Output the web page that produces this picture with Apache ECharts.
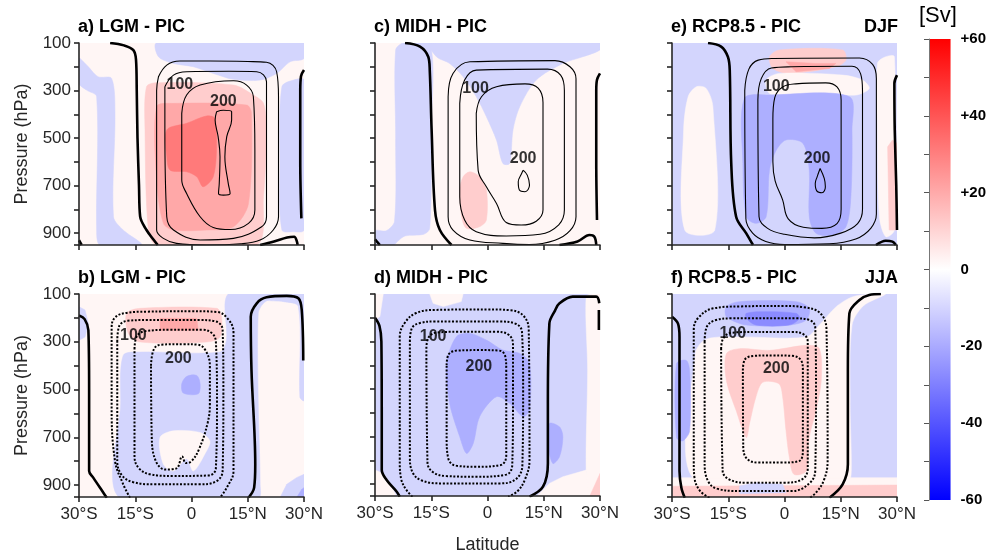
<!DOCTYPE html>
<html><head><meta charset="utf-8">
<script src="https://cdn.jsdelivr.net/npm/echarts@6/dist/echarts.min.js"></script>
<style>html,body{margin:0;padding:0;background:#fff}#c{width:989px;height:555px}</style>
</head><body><div id="c"></div>
<script>
// ---------- tick labels ----------
const latTicks = [-30, -15, 0, 15, 30];
const latLabels = ['30°S', '15°S', '0', '15°N', '30°N'];
const presLabels = [100, 300, 500, 700, 900];
const cbarRange = [-60, 60];
const cbarLabels = ['-60', '-40', '-20', '0', '+20', '+40', '+60'];
const panelTitles = ['a) LGM - PIC', 'b) LGM - PIC', 'c) MIDH - PIC', 'd) MIDH - PIC', 'e) RCP8.5 - PIC', 'f) RCP8.5 - PIC'];
const seasons = ['DJF', 'JJA'];

// ---------- filled anomaly regions: [level (Sv, band centre), [[lat, hPa], ...]] ----------
const fillA = [
  [-5, [[-9.3,100],[30,100],[30,165],[26.3,179],[22.7,228],[18.3,256],[11.2,253],[5.8,228],[0.5,200],[-4.8,186],[-8.8,158]]],
  [-5, [[-30,165],[-29.7,165],[-27.5,200],[-24.9,242],[-21.3,249],[-20.4,396],[-20.8,831],[-18.2,887],[-13.3,950],[-24.4,950],[-25.3,887],[-25.3,326],[-28,298],[-30,270]]],
  [-5, [[24.1,284],[27.2,256],[30,256],[30,887],[27.2,894],[24.1,887],[23.6,607]]],
  [15, [[-12,284],[-9.3,267],[11.2,277],[16.5,319],[19.2,354],[20,466],[19.2,747],[17.4,950],[-9.3,950],[-11.5,887],[-12.4,466]]],
  [25, [[-9.3,368],[-4.8,354],[14.7,361],[16,396],[15.2,775],[11.2,873],[4,887],[-4.8,887],[-7.5,859],[-9.3,677]]],
  [35, [[-6.6,466],[-1.3,438],[4,407],[6.2,417],[6.7,537],[5.8,663],[3.1,705],[1.4,663],[-1.3,642],[-5.7,635],[-6.6,579]]]
];
const fillB = [
  [-5, [[-19.1,953],[-18.9,560],[-18.2,357],[-13.7,343],[7.6,343],[9.3,294],[9.8,100],[22.7,100],[19.2,139],[17.8,181],[17.8,560],[18.3,897],[17.8,953]]],
  [-5, [[22.7,100],[30,100],[30,546],[28.9,532],[28.5,153],[24.5,132],[20,125]]],
  [-5, [[23.6,953],[25.4,897],[28,869],[30,855],[30,953]]],
  [-15, [[28,953],[29.4,918],[30,911],[30,953]]],
  [-5, [[-30,153],[-28.4,167],[-27.5,224],[-28.4,280],[-30,294]]],
  [5, [[-8.4,701],[-4.8,673],[2.3,680],[4.9,715],[4,757],[0.5,841],[-1.3,790],[-4.8,841],[-7.5,813]]],
  [-15, [[-2.6,476],[-1.3,445],[1.4,441],[2.3,476],[1.8,518],[-2.2,515]]],
  [15, [[-17.3,181],[-13.7,160],[6.7,160],[8,195],[7.6,280],[4,301],[-13.7,301],[-16.8,266]]],
  [25, [[-8.4,202],[1.4,202],[1.8,252],[-8.4,252]]]
];
const fillC = [
  [-5, [[-24.5,130],[-22.5,100],[-15.4,100],[-15,466],[-15.4,880],[-17,905],[-22,912],[-24,935],[-25,950],[-30,950],[-30,890],[-27,890],[-24.8,850],[-24.5,500]]],
  [-5, [[-15.4,100],[30,100],[30,129],[25.4,158],[20.1,186],[13,256],[8.6,368],[6.8,466],[5.9,607],[4.1,607],[2.4,509],[-0.3,410],[-3,326],[-6.5,242],[-10.1,186],[-13.6,158]]],
  [15, [[-6.5,663],[-4.7,642],[-2.1,663],[-0.3,719],[-0.3,845],[-2.1,873],[-5.6,880],[-6.9,831],[-7.4,719]]]
];
const fillD = [
  [-5, [[-30,100],[30,100],[30,953],[-30,953]]],
  [5, [[-30,100],[-27.8,100],[-28.7,195],[-30,209]]],
  [5, [[-15.4,100],[-6.5,100],[-7,132],[-11.8,153],[-14.5,139]]],
  [5, [[26.3,111],[28,100],[30,100],[30,953],[27.2,953],[26.3,841],[26.7,420]]],
  [5, [[-30,841],[-27.8,855],[-26,897],[-24.2,953],[-30,953]]],
  [5, [[13,953],[16.5,897],[20.1,869],[26.3,841],[27.2,953]]],
  [15, [[27.2,953],[30,855],[30,953]]],
  [-15, [[-10.9,392],[-8.3,280],[-4.7,266],[-0.3,294],[4.1,336],[8.6,350],[11.2,392],[11.2,588],[9.5,616],[5.9,560],[2.4,532],[-2.1,616],[-3.8,729],[-5.6,771],[-7.4,701],[-10.1,560]]],
  [-15, [[16.5,645],[19.2,659],[20.1,701],[19.2,785],[17.4,813],[16.1,729]]]
];
const fillE = [
  [-5, [[-30,100],[30,100],[30,953],[-30,953]]],
  [15, [[-4,158],[-1.3,129],[15.5,129],[16.4,172],[13.7,200],[1.3,228],[-3.1,207]]],
  [25, [[0.4,179],[8.4,186],[13.7,186],[12,207],[3.1,221]]],
  [5, [[-4.9,256],[-1.3,228],[15.5,235],[20.8,256],[22.6,291],[19.1,319],[12,312],[1.3,315],[-4,312]]],
  [-15, [[-10.7,333],[-4,319],[17.3,326],[18,466],[17.7,747],[16.4,873],[12.9,908],[8.4,901],[6.6,831],[6.6,635],[4.9,522],[0.4,508],[-2.2,551],[-4,635],[-4.9,831],[-7.6,859],[-10.2,831],[-11.1,607]]],
  [5, [[-26.6,887],[-26.9,466],[-25.7,326],[-23.5,284],[-20.9,291],[-19.1,368],[-18.6,887]]],
  [5, [[24.8,186],[27,158],[29.3,158],[29.3,887],[27,915],[25.3,831],[24.8,466]]],
  [15, [[27.5,537],[28.8,508],[30,522],[30,887],[27.9,887]]]
];
const fillF = [
  [-5, [[-30,100],[30,100],[30,953],[-30,953]]],
  [5, [[-23.8,880],[-23.8,350],[-21,290],[-12.9,280],[5.8,280],[9.3,230],[13.8,153],[18.3,111],[24,100],[27,100],[21,150],[18,230],[17.5,560],[17.8,841],[17,880]]],
  [5, [[-30,869],[30,869],[30,953],[-30,953]]],
  [15, [[-30,905],[30,900],[30,953],[-30,953]]],
  [-5, [[-12,904],[-7.6,890],[-0.5,897],[0.4,932],[-12,936]]],
  [15, [[-10.2,701],[-12.9,588],[-15.5,462],[-15.5,350],[-12,329],[-4,336],[5.8,315],[9.3,329],[9.8,462],[8.4,588],[6.6,701],[5.8,841],[2.5,855],[1.3,785],[0.4,673],[-0.5,530],[-1.5,476],[-5.8,470],[-7.6,530],[-9.3,640]]],
  [-15, [[-15.5,195],[-15.5,153],[-12,132],[3.1,132],[6.6,160],[5.8,209],[1.3,230],[-10.2,230]]],
  [-25, [[-10.2,202],[-10.2,181],[-5.8,174],[3.1,181],[4,202],[1.3,230],[-7.6,230]]],
  [-15, [[-28.8,392],[-26.2,378],[-25.3,420],[-25.3,673],[-27.1,715],[-28.8,701]]]
];

// ---------- zero streamfunction lines (thick) ----------
const zeroA = [
  [[-21.7,100],[-18,110],[-15.5,130],[-14.8,170],[-14.6,300],[-14.4,500],[-14,700],[-13.7,830],[-12,887],[-10,930],[-9,950]],
  [[-30,930],[-29.3,950]],
  [[30,214],[29.2,240],[29,300],[29,600],[29.3,838]],
  [[18.3,950],[22,935],[25.5,918],[27.4,915],[28,930],[28.3,950]]
];
const zeroB = [
  [[-30,190],[-28.5,205],[-27.5,252],[-27.3,500],[-27.3,841],[-26.2,869],[-23.5,932],[-22.6,953]],
  [[15.2,953],[16.7,911],[17,813],[16,420],[15.8,195],[17.4,139],[20,114],[25.4,108],[28.5,118],[29.4,167],[29.8,378]]
];
const zeroC = [
  [[-22,100],[-18,115],[-15.8,158],[-15.4,214],[-14.9,466],[-14,803],[-12.7,887],[-9.6,950]],
  [[-30,926],[-28.7,950]],
  [[30,228],[29.2,255],[29,300],[29,600],[29.2,845]],
  [[19.2,950],[24,935],[27.2,908],[28.5,915],[29,950]]
];
const zeroD = [
  [[-30,200],[-28.8,235],[-28.3,300],[-28.2,600],[-28.2,841],[-26.9,883],[-24.2,932],[-23.4,953]],
  [[11.2,953],[14.8,911],[16.1,813],[16.1,560],[16.5,224],[18,170],[19.2,139],[22.7,111],[29,111],[29.8,139]],
  [[29.7,167],[29.7,252]]
];
const zeroE = [
  [[-20.4,100],[-16.9,115],[-15.1,158],[-14.6,214],[-14.2,607],[-12.9,831],[-10.2,901],[-8.4,950]],
  [[30,235],[29.3,270],[29.4,466],[29.8,700],[30,887]],
  [[24.4,950],[27,932],[28.8,936],[29.7,950]]
];
const zeroF = [
  [[-30,195],[-28.4,224],[-28,280],[-28,841],[-27.5,911],[-26.6,953]],
  [[12,953],[15.5,897],[16.9,813],[16.9,420],[17.3,181],[20,125],[22.6,104],[25.7,100]]
];

// ---------- climatology contours (50 Sv interval) ----------
const contA = [
  [[-8.8,242],[-6.6,193],[-3.1,176],[5,176],[15,178],[20,181],[22.7,221],[23.2,326],[23.2,600],[23.2,831],[21.8,887],[18.3,929],[13,945],[4,950],[-4,943],[-7.5,922],[-9.3,887],[-9.3,600],[-9.3,300],[-8.8,242]],
  [[-7.1,284],[-4.8,235],[-1.3,221],[10,219],[17.4,221],[20,263],[20,500],[20,831],[18.7,873],[11.2,922],[2.3,929],[-4.8,887],[-6.6,831],[-7.1,467],[-7.1,284]],
  [[-2.6,396],[-1.3,319],[2.3,277],[11.2,259],[14.7,277],[16.5,326],[16.9,550],[16.9,803],[15.2,859],[10.3,885],[5.8,876],[2.3,831],[-1.3,733],[-2.6,677],[-2.6,396]],
  [[6.7,389],[8.5,383],[10.7,389],[10.7,424],[9.4,494],[8.9,579],[9.8,691],[10.3,733],[8.5,740],[7.2,733],[7.4,691],[7.6,579],[7.1,494],[6.3,424],[6.7,389]]
];
const contB = [
  [[-16.4,953],[-18.2,897],[-20.4,799],[-21.3,560],[-21.3,250],[-20.5,200],[-17,178],[-12,174],[0,172],[6.7,175],[9.5,200],[11.2,260],[11.2,841],[9.4,911],[7.6,953]],
  [[-19.8,300],[-19.3,235],[-17,212],[-12,209],[2,209],[6.5,215],[8.3,250],[8.5,500],[8.3,841],[6.5,885],[2,897],[-10,897],[-15.5,888],[-18.5,860],[-19.8,800],[-19.8,300]],
  [[-15.2,330],[-14.5,275],[-12,255],[-6,250],[3,250],[5.5,265],[6.5,300],[6.8,550],[6.5,830],[4.5,860],[-5,862],[-11,855],[-14,830],[-15.2,780],[-15.2,330]],
  [[-10.8,400],[-10,330],[-8,312],[-2,310],[1.5,312],[3.5,330],[4.9,400],[4.9,560],[4.3,640],[2,750],[0,800],[-1.5,808],[-2.5,780],[-4,830],[-7,835],[-9.5,800],[-10.6,700],[-10.8,400]]
];
const contC = [
  [[-10.5,326],[-9.2,228],[-4.7,179],[18,174],[22,200],[23.6,250],[23.6,831],[22,890],[18,930],[11.2,948],[4.1,943],[-4.7,929],[-9.2,887],[-10.5,831],[-10.5,326]],
  [[-7.4,354],[-6.1,256],[-3,214],[16,210],[19.5,235],[20.5,300],[20.5,803],[19,865],[14,905],[5,912],[-3,894],[-6.1,845],[-7.4,747],[-7.4,354]],
  [[-3,396],[-1.6,326],[2.4,284],[10,272],[13.5,290],[14.8,350],[14.8,803],[13,850],[9,866],[5,855],[2.4,775],[-0.3,705],[-2.5,635],[-3,396]],
  [[9.5,635],[10.6,656],[11.2,698],[10,726],[8.5,719],[8.2,684],[9.1,649],[9.5,635]]
];
const contD = [
  [[-20,953],[-21.6,925],[-23,880],[-23.4,800],[-23.4,280],[-22,220],[-19,180],[-14,167],[0,165],[6,168],[9.5,190],[11,250],[11.2,800],[10,880],[8,930],[5.5,953]],
  [[-20.7,300],[-20.2,245],[-18,222],[-14,216],[3,216],[7.5,225],[9.2,260],[9.5,500],[9.3,820],[7.5,880],[3,897],[-12,897],[-17.5,885],[-20,850],[-20.7,780],[-20.7,300]],
  [[-16.3,330],[-15.8,285],[-13.5,262],[-8,259],[2,259],[5.5,270],[6.8,310],[6.8,550],[6.6,820],[5,860],[-3,869],[-11,866],[-14.5,850],[-16,810],[-16.3,330]],
  [[-10.9,400],[-10.4,355],[-8,338],[-2,336],[3,338],[4.7,360],[5,420],[5,560],[5,780],[3.5,820],[-3,827],[-8.5,822],[-10.5,790],[-10.9,700],[-10.9,400]]
];
const contE = [
  [[-10.6,300],[-9.5,210],[-7,172],[-3,165],[20,163],[23.5,190],[24.5,250],[24.5,820],[23,880],[19,925],[12,945],[0,948],[-5,935],[-8.5,900],[-10.3,840],[-10.6,300]],
  [[-7.1,340],[-6.2,250],[-3.5,205],[2,200],[18,198],[20.3,230],[20.8,300],[20.8,800],[19.5,860],[15,900],[8,920],[0,905],[-4.5,880],[-6.8,830],[-7.1,340]],
  [[-3.1,420],[-2.6,330],[-0.5,285],[3,272],[11,268],[14,285],[15.1,340],[15.1,800],[14,860],[10,880],[5,875],[1,840],[-0.5,760],[-2.5,680],[-3.1,600],[-3.1,420]],
  [[9.5,628],[10.6,670],[10.9,705],[10,730],[8.6,722],[8.2,691],[8.7,663],[9.5,628]]
];
const contF = [
  [[-20,953],[-22.5,925],[-24,870],[-24.2,800],[-24.2,250],[-23,200],[-19,160],[-12,152],[0,150],[5,155],[9.5,180],[11.2,250],[11.5,800],[10.5,880],[8.5,930],[6.8,953]],
  [[-21.3,300],[-20.8,240],[-18.5,210],[-14,202],[3,202],[6.8,210],[8.2,240],[8.4,500],[8.2,840],[6.5,895],[2,925],[-12,925],[-18,915],[-20.5,880],[-21.3,800],[-21.3,300]],
  [[-16.9,330],[-16.3,285],[-14,262],[-8,259],[2,259],[5,268],[6.2,300],[6.2,550],[6.2,830],[4.8,875],[0,890],[-10,890],[-14.5,878],[-16.5,840],[-16.9,330]],
  [[-11.1,420],[-10.6,375],[-8,359],[-3,357],[2,359],[4.3,375],[4.9,420],[4.9,560],[4.9,760],[3.8,800],[-1,806],[-7,806],[-10,790],[-11,740],[-11.1,420]]
];

// ---------- contour labels [lat, hPa, text] ----------
const labelsA = [[-3.1,277,'100'],[8.5,347,'200']];
const labelsB = [[-15.5,273,'100'],[-3.5,370,'200']];
const labelsC = [[-3.2,291,'100'],[9.5,585,'200']];
const labelsD = [[-14.5,280,'100'],[-2.3,406,'200']];
const labelsE = [[-2.2,284,'100'],[8.7,586,'200']];
const labelsF = [[-13.8,266,'100'],[-2.2,413,'200']];

// ---------- styling / layout ----------
const FONT = '"Liberation Sans", Arial, Helvetica, sans-serif';
const TXT = '#262626';
const levelColors = {'-25':'#8b8bff','-15':'#adafff','-5':'#d3d5fd','5':'#fff6f5','15':'#ffcdcd','25':'#ffa8a8','35':'#ff7a7a'};
const colLeft = [79, 375, 672];
const rowTop = [43, 294];
const PW = 225, PH = 202;

const panels = [
  {fill: fillA, zero: zeroA, cont: contA, labels: labelsA, row: 0, col: 0, dotted: false},
  {fill: fillB, zero: zeroB, cont: contB, labels: labelsB, row: 1, col: 0, dotted: true},
  {fill: fillC, zero: zeroC, cont: contC, labels: labelsC, row: 0, col: 1, dotted: false},
  {fill: fillD, zero: zeroD, cont: contD, labels: labelsD, row: 1, col: 1, dotted: true},
  {fill: fillE, zero: zeroE, cont: contE, labels: labelsE, row: 0, col: 2, dotted: false},
  {fill: fillF, zero: zeroF, cont: contF, labels: labelsF, row: 1, col: 2, dotted: true}
];

const grids = [], xAxes = [], yAxes = [], series = [], titles = [];
panels.forEach((p, i) => {
  grids.push({left: colLeft[p.col], top: rowTop[p.row], width: PW, height: PH + p.row,
    show: true, backgroundColor: levelColors['5'], borderWidth: 0});
  xAxes.push({type: 'value', gridIndex: i, min: -30, max: 30, interval: 15, z: 10,
    axisLine: {show: true, onZero: false, lineStyle: {color: TXT, width: 1.6}},
    axisTick: {show: true, inside: false, length: 5, lineStyle: {color: TXT, width: 1.6}},
    axisLabel: {show: p.row === 1, color: TXT, fontSize: 17, fontFamily: FONT, margin: 9,
      formatter: v => latLabels[latTicks.indexOf(v)] || ''},
    splitLine: {show: false},
    name: (p.row === 1 && p.col === 1) ? 'Latitude' : '', nameLocation: 'middle', nameGap: 40,
    nameTextStyle: {color: TXT, fontSize: 18, fontFamily: FONT}});
  yAxes.push({type: 'value', gridIndex: i, inverse: true, min: 100, max: 950, interval: 100, z: 10,
    axisLine: {show: true, onZero: false, lineStyle: {color: TXT, width: 1.6}},
    axisTick: {show: true, inside: false, length: 5, lineStyle: {color: TXT, width: 1.6}},
    axisLabel: {show: p.col === 0, color: TXT, fontSize: 17, fontFamily: FONT, margin: 8,
      formatter: v => presLabels.indexOf(v) >= 0 ? String(v) : ''},
    splitLine: {show: false},
    name: p.col === 0 ? 'Pressure (hPa)' : '', nameLocation: 'middle', nameGap: 48,
    nameTextStyle: {color: TXT, fontSize: 18, fontFamily: FONT}});
  const fill = p.fill;
  series.push({type: 'custom', xAxisIndex: i, yAxisIndex: i, clip: true, silent: true, z: 1,
    data: fill.map(r => r[1][0]),
    renderItem: (params, api) => {
      const r = fill[params.dataIndex];
      const pts = r[1].map(q => api.coord(q));
      const col = levelColors[String(r[0])];
      return {type: 'polygon', shape: {points: pts, smooth: pts.length >= 6 ? 0.3 : 0},
        style: {fill: col, stroke: col, lineWidth: 0.5}};
    }});
  p.cont.forEach(c => series.push({type: 'line', xAxisIndex: i, yAxisIndex: i, data: c,
    showSymbol: false, symbol: 'none', smooth: 0.4, silent: true, z: 3,
    lineStyle: p.dotted ? {color: '#000', width: 2, type: [2, 1.7]} : {color: '#000', width: 1.1}}));
  p.zero.forEach(c => series.push({type: 'line', xAxisIndex: i, yAxisIndex: i, data: c,
    showSymbol: false, symbol: 'none', smooth: 0.35, silent: true, z: 4,
    lineStyle: {color: '#000', width: 2.6}}));
  series.push({type: 'scatter', xAxisIndex: i, yAxisIndex: i, symbolSize: 0, silent: true, z: 5,
    data: p.labels.map(l => [l[0], l[1], l[2]]),
    label: {show: true, position: 'inside', formatter: q => q.value[2], color: '#000',
      fontSize: 16, fontWeight: 'bold', fontFamily: FONT}});
  titles.push({text: panelTitles[i], left: colLeft[p.col] - 1, top: p.row === 0 ? 18 : 269, padding: 0,
    textStyle: {fontSize: 18, fontWeight: 'bold', color: '#000', fontFamily: FONT}});
});
seasons.forEach((s, r) => titles.push({text: s, right: 91, top: r === 0 ? 18 : 269, padding: 0,
  textStyle: {fontSize: 18, fontWeight: 'bold', color: '#000', fontFamily: FONT}}));
titles.push({text: '[Sv]', left: 919, top: 5, padding: 0,
  textStyle: {fontSize: 22, fontWeight: 'normal', color: '#000', fontFamily: FONT}});

// colour bar
const cb = panels.length;
grids.push({left: 929, top: 39, width: 22, height: 461});
xAxes.push({type: 'value', gridIndex: cb, min: 0, max: 1, show: false});
yAxes.push({type: 'value', gridIndex: cb, min: cbarRange[0], max: cbarRange[1], interval: 20, position: 'right', z: 10,
  axisLine: {show: true, lineStyle: {color: '#777', width: 1}},
  axisTick: {show: true, inside: true, length: 5, lineStyle: {color: '#555'}},
  minorTick: {show: true, splitNumber: 2, length: 5, lineStyle: {color: '#555'}},
  axisLabel: {color: '#000', fontSize: 15, fontWeight: 'bold', fontFamily: FONT, margin: 10,
    formatter: v => cbarLabels[(v - cbarRange[0]) / 20]},
  splitLine: {show: false}});
series.push({type: 'custom', xAxisIndex: cb, yAxisIndex: cb, silent: true, data: [[0, cbarRange[1]]],
  renderItem: (params, api) => {
    const a = api.coord([0, cbarRange[1]]), b = api.coord([1, cbarRange[0]]);
    return {type: 'rect', shape: {x: a[0], y: a[1], width: b[0] - a[0], height: b[1] - a[1]},
      style: {fill: new echarts.graphic.LinearGradient(0, 0, 0, 1, [
        {offset: 0, color: '#ff0000'}, {offset: 0.5, color: '#ffffff'}, {offset: 1, color: '#0000ff'}])}};
  }});

const chart = echarts.init(document.getElementById('c'), null, {renderer: 'canvas'});
chart.setOption({animation: false, backgroundColor: '#fff', title: titles,
  grid: grids, xAxis: xAxes, yAxis: yAxes, series: series});
</script></body></html>
